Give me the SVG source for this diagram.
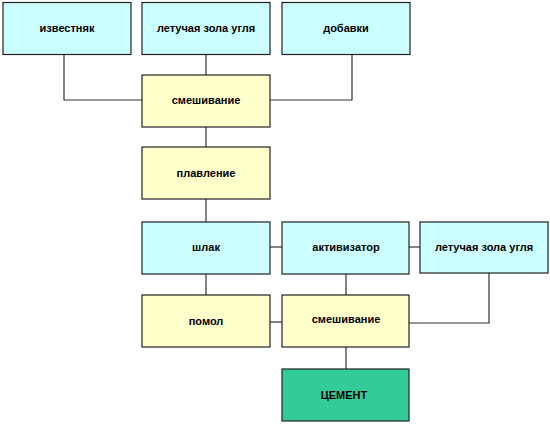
<svg xmlns="http://www.w3.org/2000/svg" width="550" height="426" viewBox="0 0 550 426">
<style>
.b{stroke:#222;stroke-width:1.2}
.c{fill:#ccffff}.y{fill:#ffffcc}.g{fill:#33cc99}
text{font-family:"Liberation Sans",Arial,sans-serif;font-weight:bold;font-size:11px;text-anchor:middle;fill:#000}
.l{fill:none;stroke:#333;stroke-width:1.2}
</style>
<rect width="550" height="426" fill="#fff"/>
<g id="connectors">
<polyline class="l" points="64,54 64,100 142,100"/>
<line class="l" x1="206" y1="54" x2="206" y2="75"/>
<polyline class="l" points="352,54 352,100 270,100"/>
<line class="l" x1="206" y1="127" x2="206" y2="147"/>
<line class="l" x1="206" y1="199" x2="206" y2="222"/>
<line class="l" x1="270" y1="247" x2="282" y2="247"/>
<line class="l" x1="409" y1="247" x2="420" y2="247"/>
<line class="l" x1="206" y1="274" x2="206" y2="295"/>
<line class="l" x1="346" y1="274" x2="346" y2="295"/>
<line class="l" x1="270" y1="322" x2="282" y2="322"/>
<polyline class="l" points="489,273 489,323 409,323"/>
<line class="l" x1="346" y1="347" x2="346" y2="369"/>
</g>
<g id="n1"><rect class="b c" x="3" y="2.5" width="128" height="52"/><text x="67" y="32">известняк</text></g>
<g id="n2"><rect class="b c" x="142" y="2.5" width="128" height="52"/><text x="206" y="32">летучая зола угля</text></g>
<g id="n3"><rect class="b c" x="282" y="2.5" width="128" height="52"/><text x="346" y="32">добавки</text></g>
<g id="n4"><rect class="b y" x="142" y="75" width="128" height="52"/><text x="206" y="104">смешивание</text></g>
<g id="n5"><rect class="b y" x="142" y="147" width="128" height="52"/><text x="206" y="177">плавление</text></g>
<g id="n6"><rect class="b c" x="142" y="222" width="128" height="52"/><text x="206" y="251">шлак</text></g>
<g id="n7"><rect class="b c" x="282" y="222" width="127" height="52"/><text x="346" y="251">активизатор</text></g>
<g id="n8"><rect class="b c" x="420" y="222" width="128" height="51"/><text x="484" y="251">летучая зола угля</text></g>
<g id="n9"><rect class="b y" x="142" y="295" width="128" height="52"/><text x="206" y="325">помол</text></g>
<g id="n10"><rect class="b y" x="282" y="295" width="127" height="52"/><text x="346" y="323">смешивание</text></g>
<g id="n11"><rect class="b g" x="282" y="369" width="127" height="52"/><text x="344" y="399">ЦЕМЕНТ</text></g>
</svg>
